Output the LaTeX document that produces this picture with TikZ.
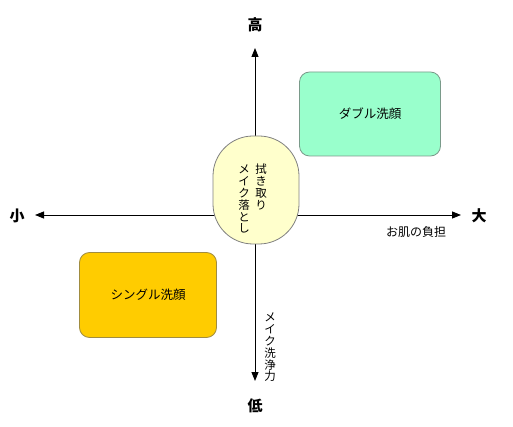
\documentclass[tikz,border=0pt]{standalone}
\usepackage{fontspec}
\setmainfont{Noto Sans CJK JP}
\usetikzlibrary{arrows.meta}
\definecolor{mint}{HTML}{99FFCC}
\definecolor{mintline}{HTML}{7A9A8A}
\definecolor{gold}{HTML}{FFCC00}
\definecolor{goldline}{HTML}{A08C40}
\definecolor{cream}{HTML}{FFFFCC}
\tikzset{
  axis/.style={line width=0.9pt,-{Triangle[length=9pt,width=7pt]}},
  quad/.style={draw=#1,line width=0.8pt,rounded corners=10pt,minimum width=141pt,minimum height=84pt,font=\fontsize{12.5}{14}\selectfont},
  ends/.style={font=\fontsize{15}{16}\selectfont\bfseries},
  vtext/.style={align=center,font=\fontsize{11.5}{11.8}\selectfont,inner sep=0pt},
}
\begin{document}
\begin{tikzpicture}[x=1pt,y=-1pt]
\useasboundingbox (0,0) rectangle (513,427);
\coordinate (o) at (255,215);
\coordinate (top) at (255,48);
\coordinate (bot) at (255,381);
\coordinate (lft) at (35,215);
\coordinate (rgt) at (461,215);
\draw[axis] (o) -- (top);
\draw[axis] (o) -- (bot);
\draw[axis] (o) -- (lft);
\draw[axis] (o) -- (rgt);
\node[ends] (hi) at (255,25) {高};
\node[ends] (lo) at (255,406) {低};
\node[ends] (sm) at (17,216) {小};
\node[ends] (lg) at (479,216) {大};
\node[font=\fontsize{12}{13}\selectfont] (burden) at (416,232) {お肌の負担};
\node[vtext,anchor=north] (power) at (270,313) {メ\\イ\\ク\\洗\\浄\\力};
\node[quad=mintline,fill=mint] (double) at (370,114) {ダブル洗顔};
\node[quad=goldline,fill=gold,minimum width=137pt,minimum height=85pt] (single) at (148,295) {シングル洗顔};
\node[draw=gray,fill=cream,line width=0.8pt,rounded corners=40pt,minimum width=86pt,minimum height=108pt] (wipe) at (256,190) {};
\node[vtext,anchor=north] (wipe1) at (261,164) {拭\\き\\取\\り};
\node[vtext,anchor=north] (wipe2) at (244,165) {メ\\イ\\ク\\落\\と\\し};
\end{tikzpicture}
\end{document}
